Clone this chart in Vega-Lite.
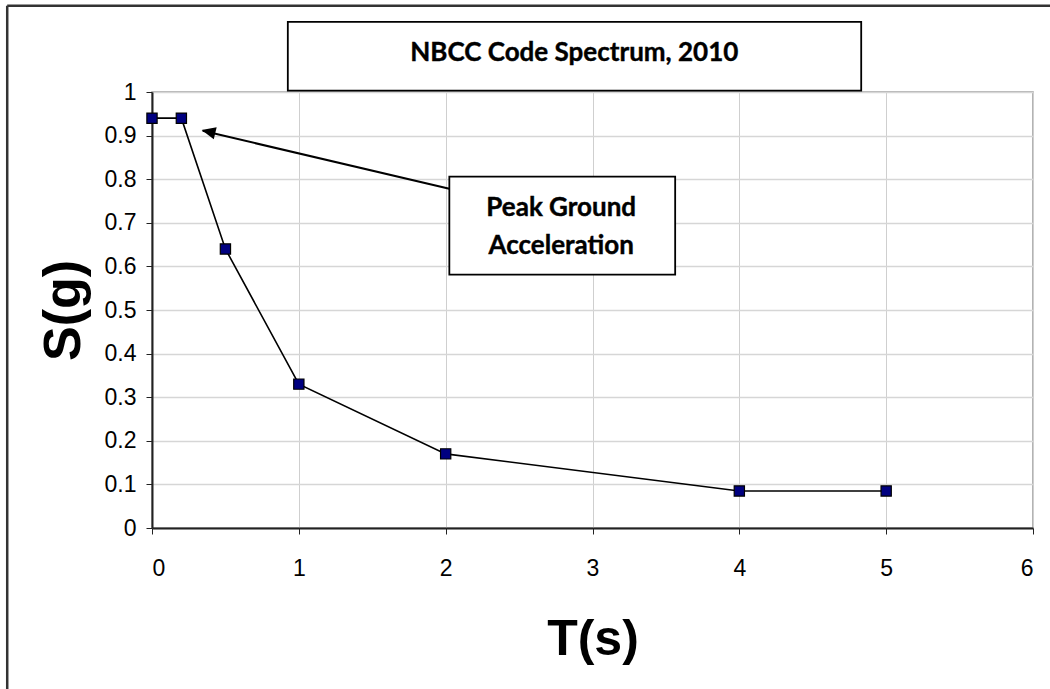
{
  "$schema": "https://vega.github.io/schema/vega-lite/v6.json",
  "width": 881,
  "height": 436,
  "autosize": {"type": "none"},
  "padding": {"left": 152, "top": 92, "right": 17, "bottom": 161},
  "background": "white",
  "config": {
    "font": "Liberation Sans",
    "view": {"stroke": "#9a9a9a", "strokeWidth": 1.5}
  },
  "datasets": {
    "spectrum": [
      {"T": 0, "S": 0.94},
      {"T": 0.2, "S": 0.94},
      {"T": 0.5, "S": 0.64},
      {"T": 1, "S": 0.33},
      {"T": 2, "S": 0.17},
      {"T": 4, "S": 0.085},
      {"T": 5, "S": 0.085}
    ],
    "frame": [
      {"x": -0.986, "y": 1.198, "x2": 6.2, "y2": 1.198},
      {"x": -0.986, "y": 1.198, "x2": -0.986, "y2": -0.4}
    ],
    "titlebox": [
      {"x": 0.925, "x2": 4.83, "y": 1.161, "y2": 1.003, "cx": 2.876, "cy": 1.09, "label": "NBCC Code Spectrum, 2010"}
    ],
    "notebox": [
      {"x": 2.025, "x2": 3.563, "y": 0.806, "y2": 0.581}
    ],
    "notetext": [
      {"cx": 2.787, "cy": 0.734, "label": "Peak Ground"},
      {"cx": 2.787, "cy": 0.647, "label": "Acceleration"}
    ],
    "arrow": [
      {"x": 2.025, "y": 0.778, "x2": 0.345, "y2": 0.911, "tx": 0.338, "ty": 0.913}
    ]
  },
  "layer": [
    {
      "data": {"name": "spectrum"},
      "mark": {"type": "line", "color": "black", "strokeWidth": 1.6},
      "encoding": {
        "x": {
          "field": "T", "type": "quantitative",
          "scale": {"domain": [0, 6], "nice": false, "zero": false},
          "axis": {
            "values": [0, 1, 2, 3, 4, 5, 6],
            "format": "~g",
            "grid": true, "gridColor": "#cfcfcf", "gridWidth": 1,
            "domainColor": "#222", "domainWidth": 2,
            "tickColor": "#222", "tickSize": 6, "tickWidth": 1,
            "labelFontSize": 23, "labelColor": "black", "labelPadding": 23,
            "labelFont": "Liberation Sans",
            "title": "T(s)", "titleFontSize": 50, "titleFontWeight": "bold",
            "titleColor": "black", "titlePadding": 34, "titleFont": "Liberation Sans"
          }
        },
        "y": {
          "field": "S", "type": "quantitative",
          "scale": {"domain": [0, 1], "nice": false, "zero": false},
          "axis": {
            "values": [0, 0.1, 0.2, 0.3, 0.4, 0.5, 0.6, 0.7, 0.8, 0.9, 1],
            "format": "~g",
            "grid": true, "gridColor": "#d6d6d6", "gridWidth": 1.5,
            "domainColor": "#222", "domainWidth": 2,
            "tickColor": "#222", "tickSize": 6, "tickWidth": 1,
            "labelFontSize": 23, "labelColor": "black", "labelPadding": 10,
            "labelFont": "Liberation Sans",
            "title": "S(g)", "titleFontSize": 52, "titleFontWeight": "bold",
            "titleColor": "black", "titlePadding": 14, "titleFont": "Liberation Sans"
          }
        }
      }
    },
    {
      "data": {"name": "spectrum"},
      "mark": {"type": "point", "shape": "square", "filled": true, "size": 105, "color": "#000080", "stroke": "black", "strokeWidth": 1.2, "opacity": 1},
      "encoding": {
        "x": {"field": "T", "type": "quantitative"},
        "y": {"field": "S", "type": "quantitative"}
      }
    },
    {
      "data": {"name": "arrow"},
      "mark": {"type": "rule", "color": "black", "strokeWidth": 2},
      "encoding": {
        "x": {"field": "x", "type": "quantitative"},
        "y": {"field": "y", "type": "quantitative"},
        "x2": {"field": "x2"},
        "y2": {"field": "y2"}
      }
    },
    {
      "data": {"name": "arrow"},
      "mark": {"type": "point", "shape": "M0,0L-0.55,1.25L0.55,1.25Z", "filled": true, "color": "black", "size": 500, "angle": 283.4, "opacity": 1},
      "encoding": {
        "x": {"field": "tx", "type": "quantitative"},
        "y": {"field": "ty", "type": "quantitative"}
      }
    },
    {
      "data": {"name": "notebox"},
      "mark": {"type": "rect", "fill": "white", "stroke": "black", "strokeWidth": 1.8},
      "encoding": {
        "x": {"field": "x", "type": "quantitative"},
        "y": {"field": "y", "type": "quantitative"},
        "x2": {"field": "x2"},
        "y2": {"field": "y2"}
      }
    },
    {
      "data": {"name": "notetext"},
      "mark": {"type": "text", "font": "Lato", "fontWeight": "bold", "fontSize": 26, "align": "center", "baseline": "middle", "color": "black", "stroke": "black", "strokeWidth": 0.4},
      "encoding": {
        "x": {"field": "cx", "type": "quantitative"},
        "y": {"field": "cy", "type": "quantitative"},
        "text": {"field": "label"}
      }
    },
    {
      "data": {"name": "titlebox"},
      "mark": {"type": "rect", "fill": "white", "stroke": "black", "strokeWidth": 1.8},
      "encoding": {
        "x": {"field": "x", "type": "quantitative"},
        "y": {"field": "y", "type": "quantitative"},
        "x2": {"field": "x2"},
        "y2": {"field": "y2"}
      }
    },
    {
      "data": {"name": "titlebox"},
      "mark": {"type": "text", "font": "Lato", "fontWeight": "bold", "fontSize": 26, "align": "center", "baseline": "middle", "color": "black", "stroke": "black", "strokeWidth": 0.4},
      "encoding": {
        "x": {"field": "cx", "type": "quantitative"},
        "y": {"field": "cy", "type": "quantitative"},
        "text": {"field": "label"}
      }
    },
    {
      "data": {"name": "frame"},
      "mark": {"type": "rule", "color": "#333", "strokeWidth": 2.5},
      "encoding": {
        "x": {"field": "x", "type": "quantitative"},
        "y": {"field": "y", "type": "quantitative"},
        "x2": {"field": "x2"},
        "y2": {"field": "y2"}
      }
    }
  ]
}
